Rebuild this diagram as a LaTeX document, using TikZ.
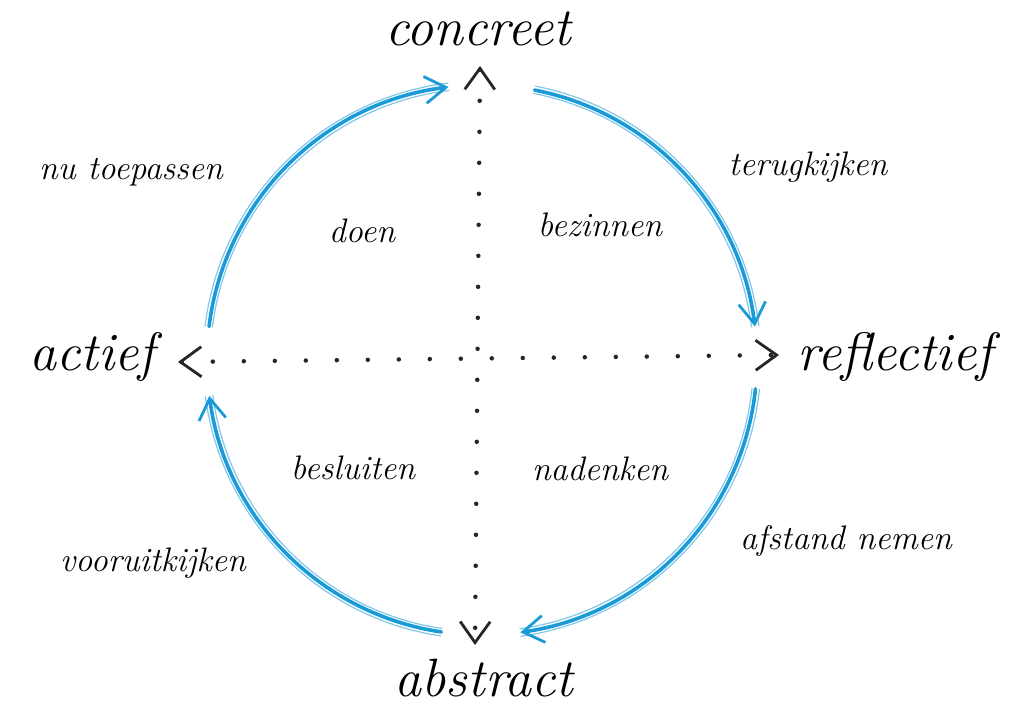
\documentclass[tikz,border=0pt]{standalone}
\usetikzlibrary{arrows.meta}
\definecolor{cyc}{HTML}{1A9AD6}
\tikzset{
  axistip/.tip={Straight Barb[length=21pt,width=30pt,line width=2.8pt]},
  cyctip/.tip={Straight Barb[length=21pt,width=27pt,line width=2.8pt]}
}
\begin{document}
\begin{tikzpicture}[x=1pt,y=-1pt,
  big/.style={font=\fontsize{54}{54}\selectfont\itshape, inner sep=0pt},
  lbl/.style={font=\fontsize{34}{34}\selectfont\itshape, inner sep=0pt},
  axisline/.style={line width=4.5pt, line cap=round, dash pattern=on 0pt off 31pt, black!85},
  cycarc/.style={cyc, line width=3.6pt, line cap=round},
  cycthin/.style={cyc, line width=1.2pt, line cap=round, opacity=.55}]
\useasboundingbox (0,0) rectangle (1030,708);

% labels
\node[big] (concreet) at (478,29) {concreet};
\node[big] (actief) at (92,357) {actief};
\node[big] (reflectief) at (895,357) {reflectief};
\node[big] (abstract) at (484,678) {abstract};

\node[lbl] (toepassen) at (131,172) {nu toepassen};
\node[lbl] (terug) at (808,167) {terugkijken};
\node[lbl] (doen) at (362,231) {doen};
\node[lbl] (bezinnen) at (600,225) {bezinnen};
\node[lbl] (besluiten) at (353,468) {besluiten};
\node[lbl] (nadenken) at (600,469) {nadenken};
\node[lbl] (vooruit) at (153,563) {vooruitkijken};
\node[lbl] (afstand) at (846,541) {afstand nemen};

% axes
\coordinate (top) at (480,66);
\coordinate (bot) at (475,645);
\coordinate (lft) at (178,362);
\coordinate (rgt) at (779,355);
\draw[axisline, axistip-axistip] (top) -- (bot);
\draw[axisline, axistip-axistip] (lft) -- (rgt);

% cycle arcs
\coordinate (c) at (482,360);
\foreach \a/\b in {-173/-97, -79/-7, 6/82, 98.5/172.5}{
  \draw[cycthin] (c) ++(\a:279) arc[start angle=\a, end angle=\b, radius=279];
  \draw[cycthin] (c) ++(\a:271.5) arc[start angle=\a, end angle=\b, radius=271.5];
  \draw[cycarc, -cyctip] (c) ++(\a:275) arc[start angle=\a, end angle=\b, radius=275];
}
\end{tikzpicture}
\end{document}
